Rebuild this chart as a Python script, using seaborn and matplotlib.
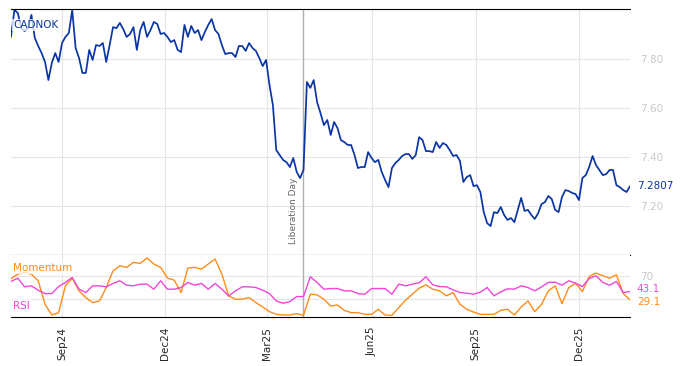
import numpy as np
import pandas as pd
import matplotlib
matplotlib.use("Agg")
import matplotlib.pyplot as plt
import matplotlib.dates as mdates
import matplotlib.transforms as mtransforms
import seaborn as sns

# ---------------- data ----------------
price_dates = pd.date_range("2024-07-18", periods=183, freq="3D")
price = [7.890, 8.000, 7.988, 7.926, 7.914, 7.926, 7.980, 7.886, 7.853, 7.824,
         7.788, 7.714, 7.784, 7.824, 7.788, 7.865, 7.890, 7.906, 8.000, 7.845,
         7.804, 7.743, 7.743, 7.837, 7.796, 7.857, 7.853, 7.865, 7.788, 7.857,
         7.930, 7.926, 7.947, 7.922, 7.890, 7.902, 7.930, 7.837, 7.918, 7.951,
         7.890, 7.918, 7.951, 7.943, 7.902, 7.906, 7.890, 7.869, 7.877, 7.837,
         7.828, 7.939, 7.890, 7.935, 7.906, 7.918, 7.877, 7.910, 7.939, 7.963,
         7.918, 7.902, 7.857, 7.820, 7.824, 7.824, 7.808, 7.853, 7.853, 7.833,
         7.865, 7.845, 7.833, 7.804, 7.771, 7.796, 7.694, 7.612, 7.428, 7.408,
         7.388, 7.379, 7.359, 7.396, 7.339, 7.314, 7.347, 7.706, 7.682, 7.714,
         7.624, 7.579, 7.530, 7.551, 7.490, 7.543, 7.518, 7.469, 7.461, 7.449,
         7.449, 7.408, 7.355, 7.359, 7.359, 7.420, 7.396, 7.379, 7.388, 7.339,
         7.306, 7.277, 7.355, 7.375, 7.388, 7.404, 7.412, 7.412, 7.392, 7.408,
         7.481, 7.469, 7.424, 7.424, 7.420, 7.461, 7.437, 7.457, 7.449, 7.428,
         7.404, 7.408, 7.384, 7.298, 7.318, 7.326, 7.281, 7.285, 7.257, 7.175,
         7.130, 7.118, 7.175, 7.171, 7.196, 7.163, 7.143, 7.151, 7.134, 7.184,
         7.233, 7.180, 7.184, 7.163, 7.147, 7.171, 7.208, 7.216, 7.241, 7.228,
         7.184, 7.175, 7.237, 7.265, 7.261, 7.253, 7.249, 7.224, 7.314, 7.326,
         7.359, 7.404, 7.367, 7.347, 7.326, 7.330, 7.347, 7.347, 7.285, 7.277,
         7.265, 7.257, 7.2807]

ind_dates = pd.date_range("2024-07-18", periods=92, freq="6D")
momentum = [65.0, 72.6, 75.5, 72.6, 61.3, 21.6, 3.4, 7.4, 52.8, 65.8,
            44.3, 32.9, 24.4, 27.2, 49.9, 78.3, 86.8, 84.0, 92.5, 90.8,
            99.9, 89.7, 84.0, 65.8, 62.4, 41.4, 82.9, 84.0, 81.2, 89.7,
            98.2, 72.6, 35.8, 30.1, 30.1, 32.9, 24.4, 17.0, 9.1, 4.5,
            3.4, 3.4, 5.7, 2.8, 38.6, 37.5, 30.1, 18.7, 20.4, 11.3,
            7.4, 7.4, 4.5, 4.5, 13.0, 3.4, 2.8, 15.9, 28.4, 38.6,
            48.8, 54.5, 47.1, 44.3, 35.8, 41.4, 21.6, 13.0, 8.5, 4.5,
            4.5, 4.5, 11.3, 13.0, 3.4, 17.0, 27.2, 9.1, 21.6, 44.3,
            52.8, 22.7, 49.9, 57.3, 43.1, 68.7, 74.4, 69.8, 65.8, 71.5,
            39.7, 29.1]
rsi = [60.2, 65.8, 51.1, 52.8, 45.4, 39.7, 39.7, 51.6, 58.5, 67.0,
       47.1, 41.4, 52.8, 52.8, 51.1, 56.8, 61.3, 53.9, 52.8, 55.6,
       55.6, 47.1, 61.3, 47.1, 47.1, 49.9, 58.5, 53.9, 56.8, 47.1,
       56.8, 47.1, 35.8, 44.3, 51.1, 51.1, 49.9, 45.4, 39.7, 27.2,
       23.3, 26.1, 34.6, 34.6, 68.1, 58.5, 47.1, 48.2, 48.2, 44.3,
       44.3, 39.7, 38.6, 48.2, 48.2, 48.2, 38.6, 55.6, 52.8, 55.6,
       57.9, 68.1, 54.5, 51.6, 51.1, 46.0, 41.4, 40.3, 38.6, 42.0,
       49.9, 35.8, 42.6, 47.7, 47.1, 52.8, 49.9, 44.3, 51.1, 58.5,
       59.0, 53.9, 61.3, 57.3, 51.6, 65.3, 69.8, 58.5, 53.9, 60.2,
       41.4, 43.1]

event_date = pd.Timestamp("2025-04-02")
event_label = "Liberation Day"
price_ticks = [7.20, 7.40, 7.60, 7.80]
ind_ticks = [30, 70]

# ---------------- style ----------------
sns.set_style("white")
plt.rcParams["font.family"] = ["DejaVu Sans"]

BLUE = "#0a35a3"
ORANGE = "#ff8c1a"
MAGENTA = "#f046d8"
GRID = "#e5e5e5"
TICKGRAY = "#c8c8c8"

fig = plt.figure(figsize=(6.81, 3.66), dpi=100)
L, R = 11 / 681, 630 / 681
ax = fig.add_axes([L, 1 - 255 / 366, R - L, (255 - 9) / 366])
ax2 = fig.add_axes([L, 1 - 317 / 366, R - L, (317 - 255) / 366], sharex=ax)

df_p = pd.DataFrame({"date": price_dates, "price": price})
df_i = pd.DataFrame({"date": ind_dates, "momentum": momentum, "rsi": rsi})

sns.lineplot(data=df_p, x="date", y="price", ax=ax, color=BLUE, linewidth=1.25)
sns.lineplot(data=df_i, x="date", y="momentum", ax=ax2, color=ORANGE, linewidth=1.0)
sns.lineplot(data=df_i, x="date", y="rsi", ax=ax2, color=MAGENTA, linewidth=1.0)

xmin, xmax = price_dates[0], price_dates[-1]
ax.set_xlim(xmin, xmax)
ax.set_ylim(7.0, 8.004)
ax2.set_ylim(0, 105)

for a in (ax, ax2):
    a.set_xlabel("")
    a.set_ylabel("")
    a.grid(True, color=GRID, linewidth=0.8)
    a.set_axisbelow(True)
    for s in ("left", "right"):
        a.spines[s].set_visible(False)
    a.yaxis.tick_right()
    a.tick_params(axis="y", length=0, pad=7, labelsize=7.5, labelcolor=TICKGRAY)
    a.axvline(event_date, color="#b0b0b0", linewidth=1.0, zorder=1)

ax.spines["top"].set_color("black")
ax.spines["bottom"].set_color("black")
ax2.spines["top"].set_visible(False)
ax2.spines["bottom"].set_color("black")

ax.set_yticks(price_ticks)
ax.set_yticklabels([f"{v:.2f}" for v in price_ticks])
ax2.set_yticks(ind_ticks)
ax2.set_yticklabels(["", "70"])

loc = mdates.MonthLocator(bymonth=[3, 6, 9, 12])
ax2.xaxis.set_major_locator(loc)
ax2.xaxis.set_major_formatter(mdates.DateFormatter("%b%y"))
ax.tick_params(axis="x", length=0, labelbottom=False)
ax2.tick_params(axis="x", length=4, width=1, color="black", labelsize=7.5,
                labelrotation=90, pad=3)

# labels
ax.text(0.004, 0.935, "CADNOK", transform=ax.transAxes, color=BLUE, fontsize=7.5,
        va="center", ha="left",
        bbox=dict(facecolor="white", alpha=0.75, edgecolor="none", pad=1))
ax2.text(0.004, 0.79, "Momentum", transform=ax2.transAxes, color=ORANGE, fontsize=7.5,
         va="center", ha="left",
         bbox=dict(facecolor="white", alpha=0.75, edgecolor="none", pad=1))
ax2.text(0.004, 0.18, "RSI", transform=ax2.transAxes, color=MAGENTA, fontsize=7.5,
         va="center", ha="left",
         bbox=dict(facecolor="white", alpha=0.75, edgecolor="none", pad=1))

ax.annotate(event_label, xy=(event_date, 7.045), xytext=(-4, 0), textcoords="offset points",
            rotation=90, ha="right", va="bottom", fontsize=6.5, color="#666666")

tr = mtransforms.blended_transform_factory(ax.transAxes, ax.transData)
ax.text(1.011, price[-1], f"{price[-1]:.4f}", transform=tr, color=BLUE, fontsize=7.5,
        va="center", ha="left")
tr2 = mtransforms.blended_transform_factory(ax2.transAxes, ax2.transData)
ax2.annotate(f"{rsi[-1]:.1f}", xy=(1.011, rsi[-1]), xycoords=tr2, xytext=(0, 1.5),
             textcoords="offset points", color=MAGENTA, fontsize=7.5, va="center", ha="left")
ax2.annotate(f"{momentum[-1]:.1f}", xy=(1.011, momentum[-1]), xycoords=tr2, xytext=(0, -1.5),
             textcoords="offset points", color=ORANGE, fontsize=7.5, va="center", ha="left")

fig.savefig("out.png", dpi=100)
